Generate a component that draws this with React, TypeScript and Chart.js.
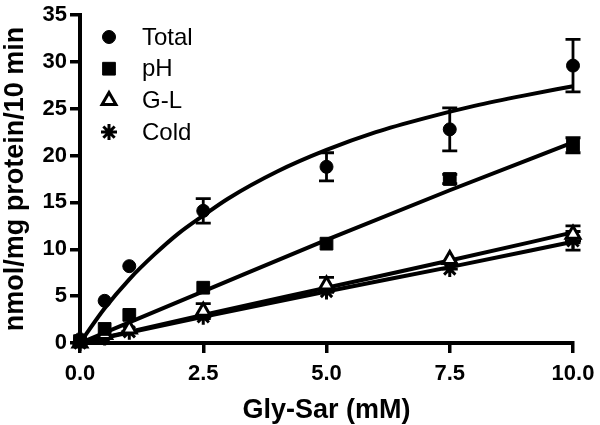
import React, { useEffect, useRef } from "react";
import { Chart, registerables } from "chart.js";
import { drawPoint } from "chart.js/helpers";

Chart.register(...registerables);

// Measured data (mean ± error)
const concentrations = [0, 0.5, 1, 2.5, 5, 7.5, 10];
const totalMean = [0.4, 4.5, 8.2, 14.1, 18.8, 22.8, 29.6];
const totalErr = [0, 0, 0, 1.3, 1.5, 2.3, 2.8];
const phMean = [0.2, 1.5, 3.0, 5.9, 10.6, 17.5, 21.1];
const phErr = [0, 0, 0, 0, 0, 0.5, 0.8];
const glMean = [0, 0.9, 1.5, 3.4, 6.2, 8.9, 11.6];
const glErr = [0, 0, 0, 0.8, 0.8, 0, 0.9];
const coldMean = [0, 0.6, 1.2, 2.8, 5.5, 7.9, 10.9];
const coldErr = [0, 0, 0, 0, 0, 0, 1.0];

// Fitted curves
const totalFitX = [0, 0.5, 1, 1.5, 2, 2.5, 3, 4, 5, 6, 7, 8, 9, 10];
const totalFit = [0, 3.7, 6.8, 9.4, 11.7, 13.6, 15.4, 18.3, 20.6, 22.5, 24.0, 25.3, 26.4, 27.4];
const lineFitX = [0, 2.5, 5, 7.5, 10];
const phFit = [0, 5.5, 11.0, 16.3, 21.4];
const glFit = [0, 3.0, 5.9, 8.8, 11.8];
const coldFit = [0, 2.8, 5.5, 8.1, 10.8];

const seriesLabels = ["Total", "pH", "G-L", "Cold"];
const xTickLabels = ["0.0", "2.5", "5.0", "7.5", "10.0"];
const yTickLabels = ["0", "5", "10", "15", "20", "25", "30", "35"];
const xTitle = "Gly-Sar (mM)";
const yTitle = "nmol/mg protein/10 min";

const FONT = "'Liberation Sans', Arial, sans-serif";

const toPts = (xs: number[], ys: number[]) => xs.map((x, i) => ({ x, y: ys[i] }));

const errorBarPlugin = {
  id: "errorBars",
  beforeDatasetsDraw(chart: any) {
    const ctx = chart.ctx;
    const xs = chart.scales.x;
    const ys = chart.scales.y;
    ctx.save();
    ctx.strokeStyle = "#000";
    ctx.lineWidth = 2.8;
    chart.data.datasets.forEach((ds: any) => {
      if (!ds.errors) return;
      ds.data.forEach((p: any, i: number) => {
        const e = ds.errors[i];
        if (!e) return;
        const px = xs.getPixelForValue(p.x);
        const top = ys.getPixelForValue(p.y + e);
        const bot = ys.getPixelForValue(p.y - e);
        const cap = 7.5;
        ctx.beginPath();
        ctx.moveTo(px, top);
        ctx.lineTo(px, bot);
        ctx.moveTo(px - cap, top);
        ctx.lineTo(px + cap, top);
        ctx.moveTo(px - cap, bot);
        ctx.lineTo(px + cap, bot);
        ctx.stroke();
      });
    });
    ctx.restore();
  },
};

const legendPlugin = {
  id: "insideLegend",
  afterDraw(chart: any) {
    const ctx = chart.ctx;
    const items = chart.data.datasets.filter((d: any) => d.inLegend);
    ctx.save();
    ctx.font = `24px ${FONT}`;
    ctx.textBaseline = "middle";
    ctx.fillStyle = "#000";
    const startY = 37;
    const step = 31.7;
    items.forEach((ds: any, i: number) => {
      const y = startY + i * step;
      ctx.fillStyle = ds.pointBackgroundColor;
      ctx.strokeStyle = "#000";
      ctx.lineWidth = ds.pointBorderWidth;
      drawPoint(ctx, { pointStyle: ds.pointStyle, radius: ds.pointRadius, borderWidth: ds.pointBorderWidth, rotation: 0 }, 109, y);
      ctx.fillStyle = "#000";
      ctx.fillText(ds.label, 142, y + 1);
    });
    ctx.restore();
  },
};

export default function App() {
  const ref = useRef<HTMLCanvasElement>(null);

  useEffect(() => {
    if (!ref.current) return;
    const markerBase = {
      type: "scatter" as const,
      showLine: false,
      borderColor: "#000",
      pointBorderColor: "#000",
      clip: false,
      inLegend: true,
    };
    const curveBase = {
      type: "line" as const,
      borderColor: "#000",
      borderWidth: 4,
      pointRadius: 0,
      fill: false,
      cubicInterpolationMode: "monotone" as const,
      clip: false,
    };
    const chart = new Chart(ref.current, {
      type: "scatter",
      data: {
        datasets: [
          { ...markerBase, label: seriesLabels[0], data: toPts(concentrations, totalMean), errors: totalErr, pointStyle: "circle", pointRadius: 6.5, pointBackgroundColor: "#000", pointBorderWidth: 1 } as any,
          { ...markerBase, label: seriesLabels[1], data: toPts(concentrations, phMean), errors: phErr, pointStyle: "rect", pointRadius: 9, pointBackgroundColor: "#000", pointBorderWidth: 1 } as any,
          { ...markerBase, label: seriesLabels[2], data: toPts(concentrations, glMean), errors: glErr, pointStyle: "triangle", pointRadius: 8, pointBackgroundColor: "#fff", pointBorderWidth: 3 } as any,
          { ...markerBase, label: seriesLabels[3], data: toPts(concentrations, coldMean), errors: coldErr, pointStyle: "star", pointRadius: 8, pointBackgroundColor: "#000", pointBorderWidth: 3 } as any,
          { ...curveBase, label: "Total fit", data: toPts(totalFitX, totalFit) } as any,
          { ...curveBase, label: "pH fit", data: toPts(lineFitX, phFit) } as any,
          { ...curveBase, label: "G-L fit", data: toPts(lineFitX, glFit) } as any,
          { ...curveBase, label: "Cold fit", data: toPts(lineFitX, coldFit) } as any,
        ],
      },
      options: {
        animation: false,
        responsive: false,
        layout: { padding: { top: 15, right: 27, left: 0, bottom: 0 } },
        plugins: { legend: { display: false }, tooltip: { enabled: false } },
        scales: {
          x: {
            type: "linear",
            min: 0,
            max: 10,
            afterBuildTicks: (scale: any) => {
              scale.ticks = xTickLabels.map((t) => ({ value: parseFloat(t) }));
            },
            afterFit: (scale: any) => {
              scale.height = 82;
              scale.paddingLeft = 0;
              scale.paddingRight = 0;
            },
            ticks: {
              callback: (v: any) => xTickLabels.find((t) => parseFloat(t) === v) ?? "",
              color: "#000",
              font: { family: FONT, size: 22, weight: "bold" },
              padding: 8,
              maxRotation: 0,
            },
            grid: { drawOnChartArea: false, drawTicks: true, tickLength: 10, color: "#000", lineWidth: 3.5 },
            border: { display: true, color: "#000", width: 4 },
            title: {
              display: true,
              text: xTitle,
              color: "#000",
              font: { family: FONT, size: 27, weight: "bold", lineHeight: 1.05 },
              padding: { top: 0, bottom: 0 },
            },
          },
          y: {
            type: "linear",
            min: 0,
            max: 35,
            afterBuildTicks: (scale: any) => {
              scale.ticks = yTickLabels.map((t) => ({ value: parseFloat(t) }));
            },
            afterFit: (scale: any) => {
              scale.width = 80;
              scale.paddingTop = 0;
              scale.paddingBottom = 0;
            },
            ticks: {
              callback: (v: any) => yTickLabels.find((t) => parseFloat(t) === v) ?? "",
              color: "#000",
              font: { family: FONT, size: 22, weight: "bold" },
              padding: 3,
            },
            grid: { drawOnChartArea: false, drawTicks: true, tickLength: 10, color: "#000", lineWidth: 3.5 },
            border: { display: true, color: "#000", width: 4 },
            title: {
              display: true,
              text: yTitle,
              color: "#000",
              font: { family: FONT, size: 27, weight: "bold", lineHeight: 1.0 },
              padding: { top: 2, bottom: 0 },
            },
          },
        },
      } as any,
      plugins: [errorBarPlugin, legendPlugin],
    });
    return () => chart.destroy();
  }, []);

  return (
    <div style={{ position: "fixed", left: 0, top: 0, width: 600, height: 425, background: "#fff" }}>
      <canvas ref={ref} width={600} height={425} style={{ display: "block" }} />
    </div>
  );
}
